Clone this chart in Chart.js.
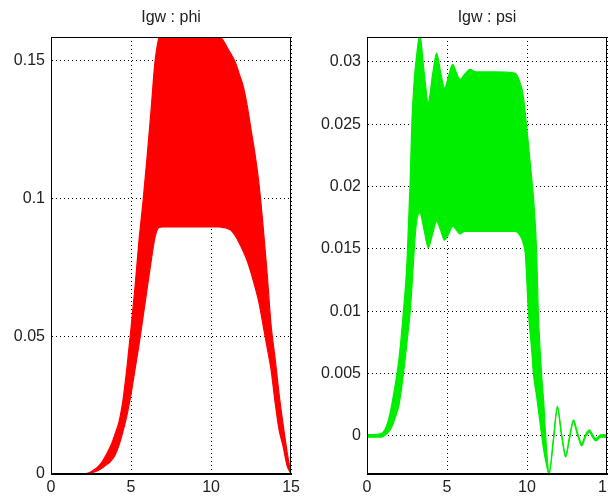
<!DOCTYPE html>
<html>
<head>
<meta charset="utf-8">
<script src="https://cdn.jsdelivr.net/npm/chart.js@4.4.1/dist/chart.umd.min.js"></script>
<style>
  html, body { margin: 0; padding: 0; background: #fff; overflow: hidden; }
  #wrap { position: relative; width: 608px; height: 496px; overflow: hidden; }
  #phiChart { position: absolute; left: 0; top: 0; }
  #psiChart { position: absolute; left: 304px; top: 0; }
</style>
</head>
<body>
<div id="wrap">
  <canvas id="phiChart" width="304" height="496"></canvas>
  <canvas id="psiChart" width="340" height="496"></canvas>
</div>
<script>
// time axis, shared tick labels
var xTicks = [0, 5, 10, 15];

// Igw : phi  (band between upper and lower envelope)
var phiX = [0, 2, 2.25, 2.5, 2.75, 3, 3.25, 3.5, 3.75, 4, 4.25, 4.5, 4.75, 5, 5.25, 5.5, 5.75, 6, 6.25, 6.5, 6.75, 7, 7.5, 8, 9, 10, 10.25, 10.5, 10.75, 11, 11.25, 11.5, 11.75, 12, 12.25, 12.5, 12.75, 13, 13.25, 13.5, 13.75, 14, 14.25, 14.5, 14.75, 15];
var phiUpper = [0, 0, 0.0002, 0.0008, 0.0018, 0.003, 0.005, 0.0075, 0.0105, 0.0145, 0.019, 0.027, 0.039, 0.053, 0.068, 0.085, 0.099, 0.115, 0.132, 0.15, 0.159, 0.165, 0.17, 0.172, 0.172, 0.168, 0.164, 0.1595, 0.1575, 0.155, 0.1525, 0.1497, 0.1455, 0.141, 0.134, 0.125, 0.116, 0.105, 0.09, 0.073, 0.054, 0.042, 0.029, 0.018, 0.008, 0];
var phiLower = [0, 0, 0.0001, 0.0003, 0.0008, 0.0015, 0.0024, 0.0035, 0.0048, 0.0068, 0.0105, 0.0155, 0.0215, 0.029, 0.038, 0.047, 0.057, 0.067, 0.077, 0.086, 0.0895, 0.0897, 0.0897, 0.0897, 0.0897, 0.0897, 0.0897, 0.0897, 0.0895, 0.0892, 0.0885, 0.0866, 0.084, 0.081, 0.0775, 0.073, 0.0678, 0.062, 0.054, 0.046, 0.0378, 0.026, 0.016, 0.01, 0.003, 0];

// Igw : psi
var psiX = [0, 0.9, 1.25, 1.5, 1.85, 2, 2.25, 2.5, 2.7, 2.8, 2.95, 3.1, 3.3, 3.57, 3.83, 4.1, 4.35, 4.6, 4.85, 5.1, 5.35, 5.6, 5.8, 6.1, 6.45, 6.8, 8, 9.25, 9.55, 9.75, 9.9, 10.1, 10.2, 10.3, 10.4, 10.6, 10.7, 10.9, 11.05, 11.2, 11.38, 11.65, 11.9, 12.15, 12.42, 12.65, 12.9, 13.15, 13.42, 13.65, 13.9, 14.1, 14.3, 14.6, 15];
var psiUpper = [0.0001, 0.0002, 0.0009, 0.0022, 0.0048, 0.0062, 0.0096, 0.014, 0.0205, 0.025, 0.0285, 0.0305, 0.0322, 0.0292, 0.0268, 0.029, 0.0307, 0.0292, 0.0279, 0.0289, 0.0298, 0.0291, 0.0286, 0.029, 0.0294, 0.0292, 0.0292, 0.0291, 0.0284, 0.0274, 0.0258, 0.0233, 0.0219, 0.0206, 0.0192, 0.0149, 0.0102, 0.0052, 0.0026, -0.0006, -0.0029, -0.0002, 0.0024, 0.0003, -0.0015, -0.0001, 0.0013, 0.0003, -0.0006, 0.0001, 0.0005, 0.0001, -0.0002, 0.0001, 0.0001];
var psiLower = [-0.0001, -0.0001, 0.0002, 0.0006, 0.0018, 0.0025, 0.0047, 0.0075, 0.01, 0.0118, 0.0149, 0.0172, 0.0179, 0.0165, 0.0151, 0.0162, 0.0172, 0.0165, 0.0157, 0.0162, 0.0168, 0.0165, 0.0162, 0.0164, 0.0164, 0.0164, 0.0164, 0.0164, 0.0161, 0.0155, 0.0145, 0.0097, 0.0082, 0.0068, 0.005, 0.0032, 0.0022, 0.0002, -0.0012, -0.0022, -0.0031, -0.0004, 0.0022, 0.0001, -0.0017, -0.0003, 0.0011, 0.0001, -0.0008, -0.0001, 0.0003, -0.0001, -0.0004, -0.0001, -0.0001];

var FONT = 'Liberation Sans, Arial, sans-serif';
var TEXT = '#222';

function points(xs, ys) {
  return xs.map(function (x, i) { return { x: x, y: ys[i] }; });
}

// matlab style closed box round the axes
var boxPlugin = {
  id: 'box',
  afterDraw: function (chart) {
    var a = chart.chartArea;
    var ctx = chart.ctx;
    ctx.save();
    ctx.strokeStyle = '#000';
    ctx.lineWidth = 1;
    ctx.strokeRect(Math.round(a.left) + 0.5, Math.round(a.top) + 0.5,
      Math.round(a.right - a.left) - 1, Math.round(a.bottom - a.top) - 1);
    ctx.restore();
  }
};

function makeChart(id, title, xs, upper, lower, color, yMin, yMax, yStep, yWidth, padRight) {
  return new Chart(document.getElementById(id), {
    type: 'line',
    data: {
      datasets: [
        {
          data: points(xs, upper),
          borderColor: color,
          backgroundColor: color,
          borderWidth: 1.2,
          pointRadius: 0,
          fill: '+1',
          cubicInterpolationMode: 'monotone'
        },
        {
          data: points(xs, lower),
          borderColor: color,
          backgroundColor: color,
          borderWidth: 1.2,
          pointRadius: 0,
          fill: false,
          cubicInterpolationMode: 'monotone'
        }
      ]
    },
    options: {
      responsive: false,
      animation: false,
      layout: { padding: { left: 0, right: padRight, top: 0, bottom: 0 } },
      plugins: {
        legend: { display: false },
        tooltip: { enabled: false },
        title: {
          display: true,
          text: title,
          fullSize: false,
          color: TEXT,
          font: { family: FONT, size: 16, weight: 'normal', lineHeight: 1.2 },
          padding: { top: 8, bottom: 9.8 }
        }
      },
      scales: {
        x: {
          type: 'linear',
          min: xTicks[0],
          max: xTicks[xTicks.length - 1],
          afterBuildTicks: function (scale) {
            scale.ticks = xTicks.map(function (v) { return { value: v }; });
          },
          ticks: { color: TEXT, font: { family: FONT, size: 16 }, padding: 4, maxRotation: 0 },
          grid: { color: '#000', lineWidth: 1, drawTicks: false },
          border: { color: '#000', dash: [1, 3] },
          afterFit: function (scale) { scale.height = 22; }
        },
        y: {
          min: yMin,
          max: yMax,
          ticks: {
            stepSize: yStep,
            includeBounds: false,
            color: TEXT,
            font: { family: FONT, size: 16 },
            padding: 6,
            callback: function (v) { return String(Number(v.toFixed(4))); }
          },
          grid: { color: '#000', lineWidth: 1, drawTicks: false },
          border: { color: '#000', dash: [1, 3] },
          afterFit: function (scale) { scale.width = yWidth; }
        }
      }
    },
    plugins: [boxPlugin]
  });
}

makeChart('phiChart', 'Igw : phi', phiX, phiUpper, phiLower, '#ff0000', 0, 0.1587, 0.05, 51, 12);
makeChart('psiChart', 'Igw : psi', psiX, psiUpper, psiLower, '#00ee00', -0.00305, 0.032, 0.005, 63, 37);
</script>
</body>
</html>
